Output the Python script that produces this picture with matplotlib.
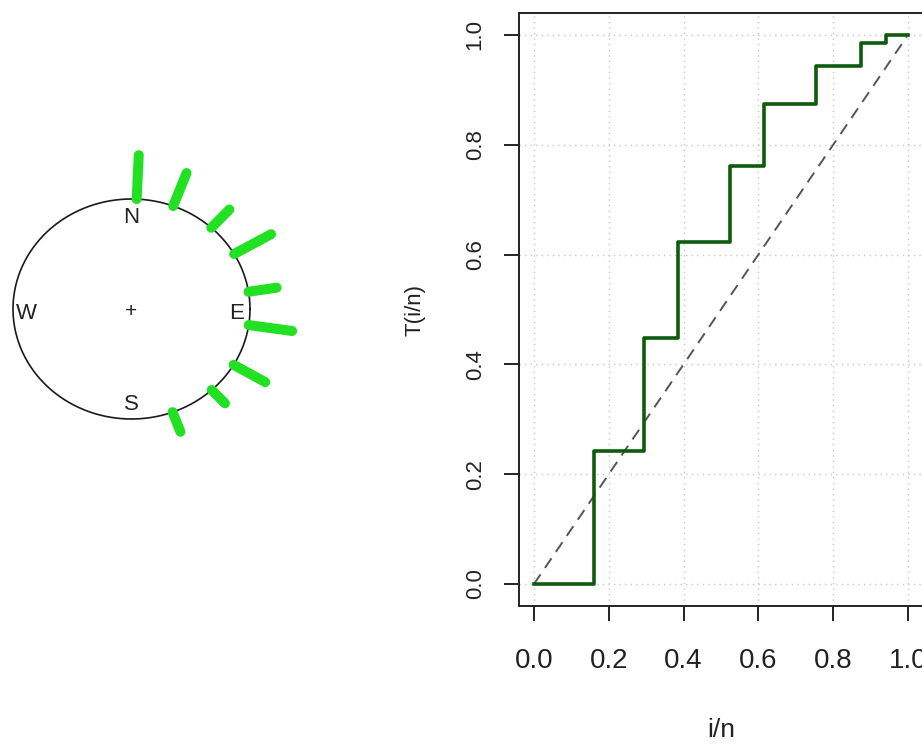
import numpy as np
import matplotlib.pyplot as plt

# circular sample: direction of each ray (degrees, counter-clockwise from E)
# and how far it reaches past the unit circle
ray_angle = [87.5, 69.4, 47.6, 30.0, 9.0, -8.4, -30.5, -47.4, -69.7]
ray_outer = [1.40, 1.32, 1.225, 1.36, 1.24, 1.37, 1.31, 1.165, 1.19]

# uniform probability plot of the same sample
step_x = [0.0, 0.161, 0.295, 0.385, 0.525, 0.614, 0.753, 0.874, 0.941, 1.0]
step_y = [0.0, 0.243, 0.448, 0.623, 0.762, 0.875, 0.943, 0.985, 1.0, 1.0]
ticks = [0.0, 0.2, 0.4, 0.6, 0.8, 1.0]
tick_labels = ['0.0', '0.2', '0.4', '0.6', '0.8', '1.0']

plt.rcParams['font.family'] = ['Liberation Sans', 'DejaVu Sans']

W, H = 922, 749
fig = plt.figure(figsize=(W / 100, H / 100), dpi=100)

# ---- left: circle with rays ----
# axes covers pixels x 0..330, full height; circle centre at (131.5, 309) px
ax1 = fig.add_axes([0, 0, 330 / W, 1])
cx, cy = 131.5, H - 309
rx, ry = 118.5, 110.0
ax1.set_xlim(-cx / rx, (330 - cx) / rx)
ax1.set_ylim(-cy / ry, (H - cy) / ry)
ax1.axis('off')

t = np.linspace(0, 2 * np.pi, 400)
ax1.plot(np.cos(t), np.sin(t), color='#1a1a1a', lw=1.2)

for a, r in zip(ray_angle, ray_outer):
    th = np.deg2rad(a)
    ax1.plot([np.cos(th), r * np.cos(th)], [np.sin(th), r * np.sin(th)],
             color='#22e022', lw=7.2, solid_capstyle='round')

ax1.text(0, 0.83, 'N', ha='center', va='center', fontsize=16, color='#222222')
ax1.text(0, -0.87, 'S', ha='center', va='center', fontsize=16, color='#222222')
ax1.text(0.89, -0.04, 'E', ha='center', va='center', fontsize=16, color='#222222')
ax1.text(-0.89, -0.04, 'W', ha='center', va='center', fontsize=16, color='#222222')
ax1.text(0, -0.02, '+', ha='center', va='center', fontsize=15, color='#222222')

# ---- right: step plot ----
ax2 = fig.add_axes([519 / W, 1 - 606 / H, 403 / W + 0.001, 593 / H])
ax2.set_xlim(-0.04, 1.04)
ax2.set_ylim(-0.04, 1.04)

for v in ticks:
    ax2.axvline(v, color='#c8c8c8', lw=1, ls=(0, (1, 3)), zorder=0)
    ax2.axhline(v, color='#c8c8c8', lw=1, ls=(0, (1, 3)), zorder=0)

ax2.plot([0, 1], [0, 1], color='#555555', lw=1.4, ls=(0, (6, 4)))
ax2.plot(step_x, step_y, drawstyle='steps-post', color='#0d5c0d', lw=2.6)

for s in ax2.spines.values():
    s.set_color('#222222')
    s.set_linewidth(1.4)

ax2.set_xticks(ticks)
ax2.set_xticklabels(tick_labels)
ax2.set_yticks(ticks)
ax2.set_yticklabels(tick_labels, rotation=90, va='center')
ax2.tick_params(axis='x', direction='out', length=11, width=1.4, color='#222222',
                pad=19, labelsize=20, labelcolor='#222222')
ax2.tick_params(axis='y', direction='out', length=11, width=1.4, color='#222222',
                pad=13, labelsize=16, labelcolor='#222222')

ax2.set_xlabel('i/n', fontsize=19, color='#222222')
ax2.xaxis.set_label_coords(0.5, -0.189)
ax2.set_ylabel('T(i/n)', fontsize=16, color='#222222')
ax2.yaxis.set_label_coords(-0.232, 0.5)

fig.savefig('out.png', dpi=100)
